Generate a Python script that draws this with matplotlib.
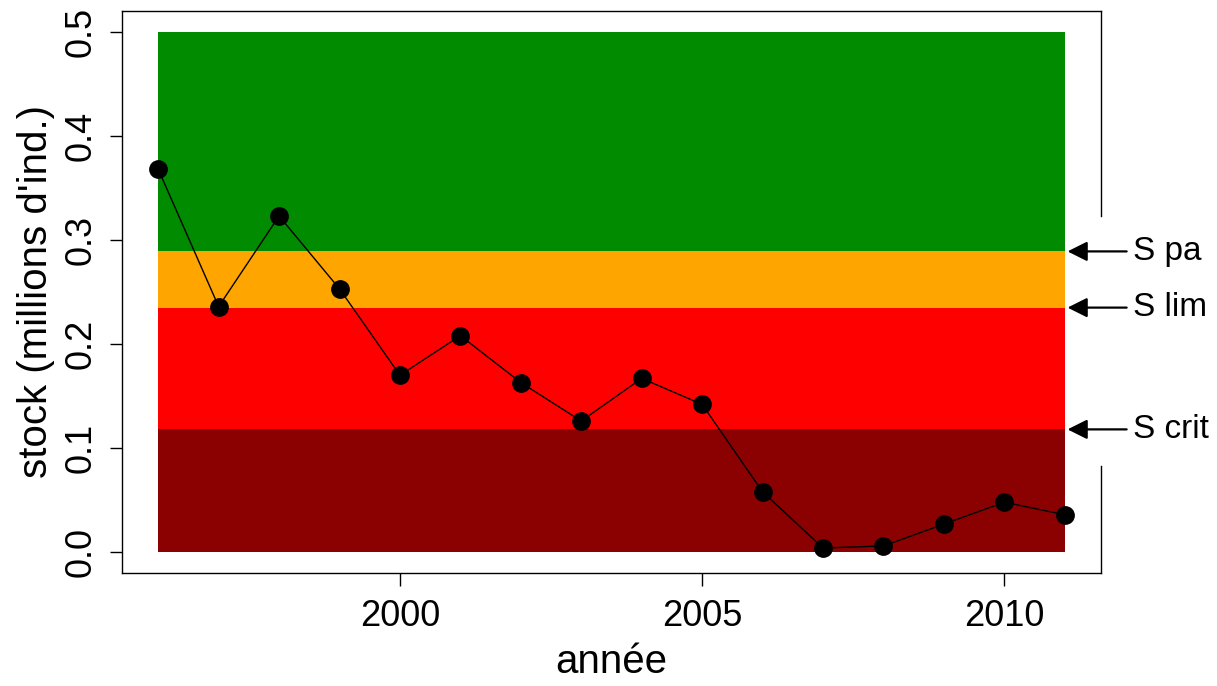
import matplotlib
matplotlib.use("Agg")
import matplotlib.pyplot as plt

plt.rcParams['font.family'] = ['Liberation Sans', 'DejaVu Sans']

years = [1996, 1997, 1998, 1999, 2000, 2001, 2002, 2003, 2004, 2005,
         2006, 2007, 2008, 2009, 2010, 2011]
stock = [0.368, 0.236, 0.323, 0.253, 0.170, 0.208, 0.163, 0.126, 0.167, 0.142,
         0.058, 0.004, 0.006, 0.027, 0.048, 0.036]

# reference points (bands)
s_crit = 0.118
s_lim = 0.235
s_pa = 0.289
s_top = 0.5
ref_labels = ["S pa", "S lim", "S crit"]
ref_values = [s_pa, s_lim, s_crit]

fig = plt.figure(figsize=(12.17, 6.86), dpi=100)
ax = fig.add_axes([0.1002, 0.1647, 0.8045, 0.8193])

x0, x1 = years[0], years[-1]
ax.fill_between([x0, x1], 0, s_crit, color="#8B0000", lw=0)
ax.fill_between([x0, x1], s_crit, s_lim, color="#FF0000", lw=0)
ax.fill_between([x0, x1], s_lim, s_pa, color="#FFA500", lw=0)
ax.fill_between([x0, x1], s_pa, s_top, color="#008B00", lw=0)

ax.plot(years, stock, color="black", lw=1.0, marker="o", markersize=12.5, zorder=3)

ax.set_xlim(1995.4, 2011.6)
ax.set_ylim(-0.02, 0.52)
ax.set_xticks([2000, 2005, 2010])
ax.set_yticks([0.0, 0.1, 0.2, 0.3, 0.4, 0.5])
ax.set_yticklabels(["0.0", "0.1", "0.2", "0.3", "0.4", "0.5"], rotation=90, va="center")
ax.tick_params(axis="both", labelsize=26, length=9, width=1.0, direction="out")
ax.tick_params(axis="x", pad=10)
ax.tick_params(axis="y", pad=8)
ax.set_xlabel("année", fontsize=29, labelpad=6)
ax.set_ylabel("stock (millions d'ind.)", fontsize=29, labelpad=6)

for sp in ax.spines.values():
    sp.set_linewidth(1.0)
ax.spines["right"].set_visible(False)
# right border with a gap where the labels sit
ax.plot([1, 1], [0, 0.19], color="black", lw=1.0, transform=ax.transAxes, clip_on=False)
ax.plot([1, 1], [0.635, 1], color="black", lw=1.0, transform=ax.transAxes, clip_on=False)

for lab, val in zip(ref_labels, ref_values):
    ax.annotate("", xy=(x1, val), xytext=(x1 + 1.07, val),
                arrowprops=dict(arrowstyle="-|>", color="black", lw=1.6,
                                mutation_scale=30), annotation_clip=False)
    ax.text(x1 + 1.13, val, lab, fontsize=24, va="center", ha="left", clip_on=False)

fig.savefig("out.png", dpi=100)
